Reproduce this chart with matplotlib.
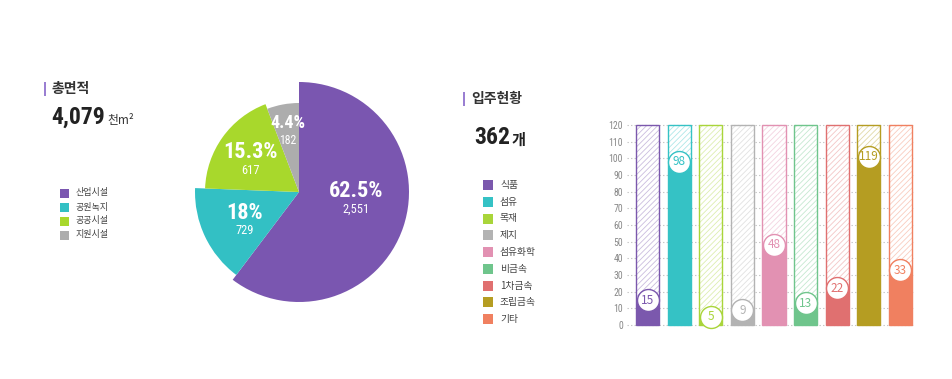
import matplotlib
matplotlib.use("Agg")
import matplotlib.pyplot as plt
from matplotlib.patches import Rectangle
import matplotlib.colors as mcolors
import numpy as np

# ---------------- data ----------------
area_categories = ["산업시설", "공원녹지", "공공시설", "지원시설"]
area_values = ["2,551", "729", "617", "182"]
area_pct_labels = ["62.5%", "18%", "15.3%", "4.4%"]
# angular share of each slice as drawn in the picture (percent)
area_slice_share = [60.3, 15.3, 18.6, 5.8]
area_colors = ["#7a56b0", "#33c0c4", "#a8d82c", "#adadad"]
total_area = "4,079"

tenant_categories = ["식품", "섬유", "목재", "제지", "섬유화학", "비금속", "1차금속", "조립금속", "기타"]
tenant_counts = [15, 98, 5, 9, 48, 13, 22, 119, 33]
tenant_colors = ["#7b58ad", "#35c2c5", "#a9d53a", "#b3b3b3", "#e291b2",
                 "#6fc58c", "#e07070", "#b59d22", "#f08060"]
total_tenants = "362"
y_ticks = list(range(0, 121, 10))

# ---------------- styling ----------------
W, H = 952, 379
KR = ["Noto Sans CJK KR", "DejaVu Sans"]
NUM = ["Liberation Sans Narrow", "Roboto Condensed", "Noto Sans CJK KR"]
plt.rcParams["font.family"] = KR
plt.rcParams["hatch.linewidth"] = 0.6

fig = plt.figure(figsize=(W / 100, H / 100), dpi=100)


def fx(px):
    return px / W


def fy(py):
    return 1 - py / H


def light(c, amt=0.6):
    r, g, b = mcolors.to_rgb(c)
    return (r + (1 - r) * amt, g + (1 - g) * amt, b + (1 - b) * amt)


accent = "#9a7fd2"

# ---------------- left header ----------------
fig.add_artist(Rectangle((fx(44), fy(96)), 2.2 / W, 14 / H, transform=fig.transFigure,
                         color=accent, lw=0))
fig.text(fx(51), fy(89), "총면적", fontsize=10, fontweight="bold", color="#333",
         va="center", ha="left")
t_area = fig.text(fx(51), fy(124), total_area, fontsize=17, fontweight="bold", color="#222",
                  va="baseline", ha="left", family=NUM)
fig.add_artist(plt.Annotation("천m²", xy=(1, 0), xycoords=t_area,
                              xytext=(2, 1.5), textcoords="offset points",
                              fontsize=8.5, color="#333", va="bottom", ha="left"))

# left legend
for i, (cat, col) in enumerate(zip(area_categories, area_colors)):
    cy = 193 + i * 14
    fig.add_artist(Rectangle((fx(60), fy(cy + 4.5)), 9 / W, 9 / H,
                             transform=fig.transFigure, color=col, lw=0))
    fig.text(fx(76), fy(cy), cat, fontsize=6.5, color="#444", va="center", ha="left")

# ---------------- pie ----------------
cx, cy = 299, 192
R = 125
ax_pie = fig.add_axes([fx(cx - R), fy(cy + R), 2 * R / W, 2 * R / H])
radii = [110, 104, 94, 89]
wedges, _ = ax_pie.pie(area_slice_share, colors=area_colors, startangle=90,
                       counterclock=False, radius=110,
                       wedgeprops=dict(linewidth=0))
for w, r in zip(wedges, radii):
    w.set_radius(r)
ax_pie.set_xlim(-R, R)
ax_pie.set_ylim(-R, R)
ax_pie.set_aspect("equal")
ax_pie.axis("off")

pct_sizes = [16, 16, 16, 13]
val_sizes = [9, 9, 9, 8.5]
for i, w in enumerate(wedges):
    mid = np.deg2rad((w.theta1 + w.theta2) / 2)
    d = 60
    lx, ly = d * np.cos(mid), d * np.sin(mid)
    if i == 0:
        ly += 12
    elif i in (1, 2):
        ly -= 3
    else:
        ly += 2
    ax_pie.text(lx, ly + 8, area_pct_labels[i], color="white", fontsize=pct_sizes[i],
                fontweight="bold", ha="center", va="center", family=NUM)
    ax_pie.text(lx, ly - 10, area_values[i], color="white", fontsize=val_sizes[i],
                ha="center", va="center", family=NUM)

# ---------------- right header ----------------
fig.add_artist(Rectangle((fx(463), fy(106)), 2.2 / W, 14 / H, transform=fig.transFigure,
                         color=accent, lw=0))
fig.text(fx(471), fy(99), "입주현황", fontsize=10, fontweight="bold", color="#333",
         va="center", ha="left")
t_cnt = fig.text(fx(474), fy(144), total_tenants, fontsize=17, fontweight="bold", color="#222",
                 va="baseline", ha="left", family=NUM)
fig.add_artist(plt.Annotation("개", xy=(1, 0), xycoords=t_cnt,
                              xytext=(1, 1), textcoords="offset points",
                              fontsize=11, fontweight="bold", color="#222",
                              va="bottom", ha="left"))

for i, (cat, col) in enumerate(zip(tenant_categories, tenant_colors)):
    ccy = 185 + i * 16.75
    fig.add_artist(Rectangle((fx(483), fy(ccy + 5)), 10 / W, 10 / H,
                             transform=fig.transFigure, color=col, lw=0))
    fig.text(fx(500), fy(ccy), cat, fontsize=7, color="#444", va="center", ha="left")

# ---------------- bar chart ----------------
ax = fig.add_axes([fx(627), fy(325), (914 - 627) / W, 200 / H])
x = np.arange(len(tenant_counts))
bw = 0.73
ymax = 120
# the picture tops the filled bar (and its marker) out just above 100
display = np.minimum(tenant_counts, 101)

ax.set_xlim(-0.65, 8.43)
ax.set_ylim(0, ymax)
ax.set_yticks(y_ticks)
ax.set_yticklabels([str(t) for t in y_ticks], fontsize=7, color="#888", family=NUM)
ax.tick_params(axis="y", length=0, pad=3)
ax.set_xticks([])
for s in ax.spines.values():
    s.set_visible(False)
for t in y_ticks:
    ax.axhline(t, color="#c4c4c4", lw=0.8, linestyle=(0, (1.2, 2)), zorder=0, clip_on=False)

for i, (v, d, c) in enumerate(zip(tenant_counts, display, tenant_colors)):
    ax.bar(x[i], ymax, width=bw, facecolor="white", edgecolor=light(c, 0.6),
           hatch="//////", linewidth=0, zorder=1)
    ax.bar(x[i], d, width=bw, color=c, linewidth=0, zorder=2)
    ax.bar(x[i], ymax, width=bw, fill=False, edgecolor=c, linewidth=1.0, zorder=3,
           clip_on=False)
    ax.scatter([x[i]], [d], s=250, facecolor="white", edgecolor=c, linewidth=1.0,
               zorder=4, clip_on=False)
    ax.text(x[i], d, str(v), color=c, fontsize=8.5, ha="center", va="center",
            zorder=5)

fig.savefig("out.png", dpi=100)
